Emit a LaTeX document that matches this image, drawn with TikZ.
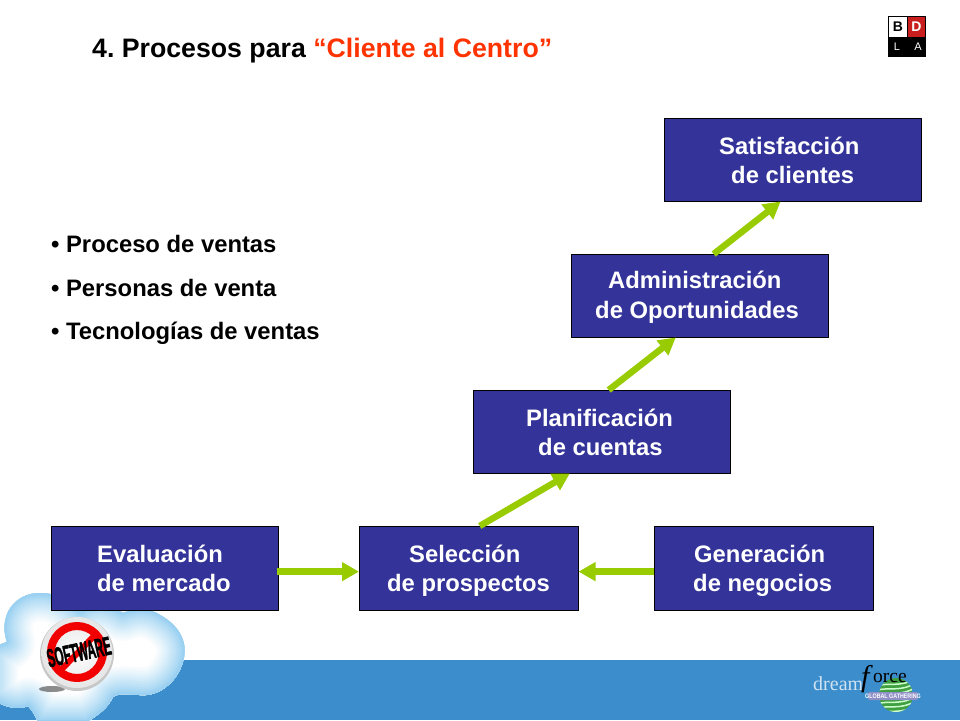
\documentclass[tikz,border=0pt]{standalone}
\usepackage{fontspec}
\setmainfont{Liberation Sans}
\newfontfamily\serifface{Liberation Serif}
\usetikzlibrary{arrows.meta,calc}
\definecolor{boxblue}{HTML}{333399}
\definecolor{band}{HTML}{3C8DCB}
\definecolor{arrowgreen}{HTML}{99CC00}
\definecolor{titlered}{HTML}{FF3300}
\definecolor{cloudedge}{HTML}{8CCBF0}
\definecolor{logored}{HTML}{C81E1E}
\tikzset{
  stage/.style={draw=black,line width=0.9pt,fill=boxblue,anchor=north west,inner sep=0pt,outer sep=0pt},
  stagetext/.style={anchor=base west,inner sep=0pt,text=white,font=\fontsize{23.8}{26}\selectfont\bfseries},
  bullettext/.style={anchor=base west,inner sep=0pt,text=black,font=\fontsize{23.8}{26}\selectfont\bfseries},
  flow/.style={draw=arrowgreen,line width=6.5pt,-{Triangle[length=17pt,width=18pt,fill=arrowgreen]}},
  logotext/.style={inner sep=0pt,font=\fontsize{14}{15}\selectfont\bfseries},
}
\newcommand{\cloudpath}{(-10,648) -- (7,642) .. controls (-2,615) and (15,593) .. (40,593) .. controls (58,593) and (72,603) .. (80,612) .. controls (95,600) and (110,605) .. (123,613) .. controls (135,608) and (150,608) .. (160,615) .. controls (178,625) and (187,640) .. (184,657) .. controls (180,680) and (160,697) .. (140,695) .. controls (130,695) and (120,692) .. (113,697) .. controls (108,708) and (98,715) .. (87,722) -- (38,722) .. controls (35,715) and (32,710) .. (28,706) .. controls (18,710) and (5,708) .. (-10,698) -- cycle}
\begin{document}
\begin{tikzpicture}[x=1pt,y=-1pt,line join=round]
\useasboundingbox (0,0) rectangle (960,720);
\fill[white] (0,0) rectangle (960,720);
\fill[band] (0,660) rectangle (960,720);
% cloud
\begin{scope}
\clip (0,0) rectangle (960,720);
\fill[white] \cloudpath;
\clip \cloudpath;
\foreach \i in {30,28,...,2}{
  \pgfmathsetmacro{\mixv}{100*(\i/30)^0.8}
  \colorlet{cloudstep}{white!\mixv!cloudedge}
  \draw[cloudstep,line width={2*\i*1pt}] \cloudpath;
}
\end{scope}
% badge
\fill[black!75,opacity=.6] (52,689) ellipse (13 and 3);
\fill[black!22] (77,654) circle (37);
\shade[inner color=white,outer color=black!10] (77,652.5) circle (35.5);
\draw[red!95!black,line width=8pt] (77,652) circle (26);
\draw[red!95!black,line width=6pt] (97,633) -- (58,673);
\node[rotate=12,inner sep=0pt,text=black,xscale=.44,font=\fontsize{26}{28}\selectfont\bfseries\addfontfeature{FakeBold=2}] (software) at (79,652) {SOFTWARE};
% title
\node[anchor=base west,inner sep=0pt,font=\fontsize{26.7}{30}\selectfont\bfseries\frenchspacing] (title) at (92,57) {4. Procesos para \textcolor{titlered}{“Cliente al Centro”}};
% BDLA logo
\fill[black] (888,16) rectangle (926,57);
\fill[white] (889,17) rectangle (907,37);
\fill[logored] (908,17) rectangle (925,37);
\node[logotext,text=black] (logoB) at (898,27) {B};
\node[logotext,text=white] (logoD) at (916.5,27) {D};
\node[inner sep=0pt,text=white,font=\fontsize{11}{12}\selectfont] (logoL) at (897,47) {L};
\node[inner sep=0pt,text=white,font=\fontsize{11}{12}\selectfont] (logoA) at (918,47) {A};
% bullets
\node[bullettext] (b1) at (51,252) {• Proceso de ventas};
\node[bullettext] (b2) at (51,296) {• Personas de venta};
\node[bullettext] (b3) at (51,339) {• Tecnologías de ventas};
% boxes
\node[stage,minimum width=257.5pt,minimum height=83.5pt] (sat) at (664,118) {};
\node[stage,minimum width=257.5pt,minimum height=83.5pt] (adm) at (571,254) {};
\node[stage,minimum width=257.5pt,minimum height=83.5pt] (pla) at (473,390) {};
\node[stage,minimum width=227.5pt,minimum height=84.5pt] (eva) at (51,526) {};
\node[stage,minimum width=219.5pt,minimum height=84.5pt] (sel) at (359,526) {};
\node[stage,minimum width=219.5pt,minimum height=84.5pt] (gen) at (654,526) {};
% box text
\node[stagetext] (sat1) at (719,154) {Satisfacción};
\node[stagetext] (sat2) at (731,183) {de clientes};
\node[stagetext] (adm1) at (608,288) {Administración};
\node[stagetext] (adm2) at (595,318) {de Oportunidades};
\node[stagetext] (pla1) at (526,426) {Planificación};
\node[stagetext] (pla2) at (538,455) {de cuentas};
\node[stagetext] (eva1) at (97,562) {Evaluación};
\node[stagetext] (eva2) at (97,591) {de mercado};
\node[stagetext] (sel1) at (409,562) {Selección};
\node[stagetext] (sel2) at (387,591) {de prospectos};
\node[stagetext] (gen1) at (694,562) {Generación};
\node[stagetext] (gen2) at (693,591) {de negocios};
% connectors
\draw[flow,shorten <=-2pt] ($(eva.north east)!0.54!(eva.south east)$) -- ($(sel.north west)!0.54!(sel.south west)$);
\draw[flow] ($(gen.north west)!0.54!(gen.south west)$) -- ($(sel.north east)!0.54!(sel.south east)$);
\draw[flow] ($(sel.north west)!0.55!(sel.north east)$) -- ($(pla.south west)!0.376!(pla.south east)$);
\draw[flow] ($(pla.north west)!0.527!(pla.north east)$) -- ($(adm.south west)!0.407!(adm.south east)$);
\draw[flow] ($(adm.north west)!0.554!(adm.north east)$) -- ($(sat.south west)!0.453!(sat.south east)$);
% dreamforce logo
\begin{scope}
\clip (896,695) circle (17);
\fill[green!50!black!75!white] (896,695) circle (17);
\foreach \k in {0,1,...,6}{
  \draw[white!80!green,line width=1.5pt] (876,{686+\k*4.5}) .. controls (888,{682+\k*4.5}) and (902,{688+\k*4.5}) .. (916,{678+\k*4.5});
}
\end{scope}
\fill[white!45!boxblue,rounded corners=2pt] (868,692) rectangle (918,700);
\node[inner sep=0pt,text=white,xscale=.82,font=\fontsize{6.5}{7}\selectfont\bfseries] (gg) at (893,696) {GLOBAL GATHERING};
\node[anchor=base west,inner sep=0pt,text=white!75!band,font=\fontsize{20}{22}\selectfont\serifface] (dream) at (813,690) {dream};
\node[anchor=base west,inner sep=0pt,text=black,font=\fontsize{30}{32}\selectfont\serifface\itshape] (fglyph) at (861,686) {f};
\node[anchor=base west,inner sep=0pt,text=black,font=\fontsize{19.5}{22}\selectfont\serifface] (orce) at (873,682) {orce};
\end{tikzpicture}
\end{document}
